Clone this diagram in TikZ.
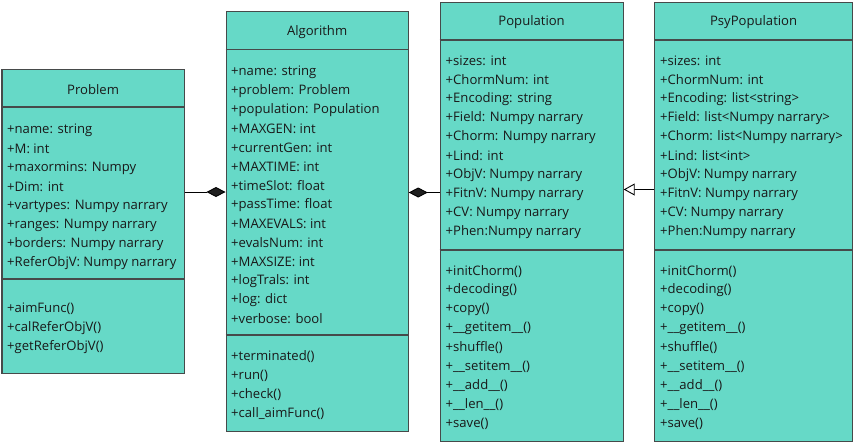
\documentclass[tikz,border=0pt]{standalone}
\usepackage{fontspec}
\setmainfont{Open Sans}
\usetikzlibrary{arrows.meta}
\definecolor{boxfill}{RGB}{102,217,199}
\definecolor{boxline}{RGB}{70,74,74}
\definecolor{txt}{RGB}{25,25,25}
\begin{document}
\begin{tikzpicture}[x=1pt,y=-1pt,
  classbox/.style={draw=boxline, fill=boxfill, line width=1.2pt, inner sep=0pt, anchor=north west},
  sepline/.style={draw=boxline, line width=1.2pt},
  member/.style={anchor=west, inner sep=0pt, yshift=-1pt, text=txt, font=\fontsize{13.1}{15}\selectfont},
  classtitle/.style={inner sep=0pt, yshift=-1pt, text=txt, font=\fontsize{13.1}{15}\selectfont},
  conn/.style={draw=black, line width=0.9pt}
]
\useasboundingbox (0,0) rectangle (854,442);

% ---------- Problem ----------
\node[classbox, minimum width=182pt, minimum height=304pt] (prob) at (1.5,68.5) {};
\draw[sepline] (prob.west |- 0,107) -- (prob.east |- 0,107);
\draw[sepline] (prob.west |- 0,279) -- (prob.east |- 0,279);
\node[classtitle] (probt) at (prob.north |- 0,89) {Problem};
\foreach \t [count=\i from 0] in {+name: string,+M: int,+maxormins: Numpy,+Dim: int,+vartypes: Numpy narrary,+ranges: Numpy narrary,+borders: Numpy narrary,+ReferObjV: Numpy narrary}
  \node[member] (proba\i) at (7,129+19*\i) {\t};
\foreach \t [count=\i from 0] in {+aimFunc(),+calReferObjV(),+getReferObjV()}
  \node[member] (probm\i) at (7,308+19*\i) {\t};

% ---------- Algorithm ----------
\node[classbox, minimum width=182pt, minimum height=420.5pt] (alg) at (225.5,10.5) {};
\draw[sepline] (alg.west |- 0,49.5) -- (alg.east |- 0,49.5);
\draw[sepline] (alg.west |- 0,335) -- (alg.east |- 0,335);
\node[classtitle] (algt) at (alg.north |- 0,31) {Algorithm};
\foreach \t [count=\i from 0] in {+name: string,+problem: Problem,+population: Population,+MAXGEN: int,+currentGen: int,+MAXTIME: int,+timeSlot: float,+passTime: float,+MAXEVALS: int,+evalsNum: int,+MAXSIZE: int,+logTrals: int,+log: dict,+verbose: bool}
  \node[member] (alga\i) at (231,71+19*\i) {\t};
\foreach \t [count=\i from 0] in {+terminated(),+run(),+check(),+call\_aimFunc()}
  \node[member] (algm\i) at (231,356+19*\i) {\t};

% ---------- Population ----------
\node[classbox, minimum width=183pt, minimum height=438.5pt] (pop) at (439.5,2) {};
\draw[sepline] (pop.west |- 0,40) -- (pop.east |- 0,40);
\draw[sepline] (pop.west |- 0,250) -- (pop.east |- 0,250);
\node[classtitle] (popt) at (pop.north |- 0,21) {Population};
\foreach \t [count=\i from 0] in {+sizes: int,+ChormNum: int,+Encoding: string,+Field: Numpy narrary,+Chorm: Numpy narrary,+Lind: int,+ObjV: Numpy narrary,+FitnV: Numpy narrary,+CV: Numpy narrary,+Phen:Numpy narrary}
  \node[member] (popa\i) at (445.5,60+19*\i) {\t};
\foreach \t [count=\i from 0] in {+initChorm(),+decoding(),+copy(),+\_\_getitem\_\_(),+shuffle(),+\_\_setitem\_\_(),+\_\_add\_\_(),+\_\_len\_\_(),+save()}
  \node[member] (popm\i) at (445.5,270.5+19*\i) {\t};

% ---------- PsyPopulation ----------
\node[classbox, minimum width=198pt, minimum height=438.5pt] (psy) at (654,2) {};
\draw[sepline] (psy.west |- 0,40) -- (psy.east |- 0,40);
\draw[sepline] (psy.west |- 0,250) -- (psy.east |- 0,250);
\node[classtitle] (psyt) at (psy.north |- 0,21) {PsyPopulation};
\foreach \t [count=\i from 0] in {+sizes: int,+ChormNum: int,+Encoding: list<string>,+Field: list<Numpy narrary>,+Chorm: list<Numpy narrary>,+Lind: list<int>,+ObjV: Numpy narrary,+FitnV: Numpy narrary,+CV: Numpy narrary,+Phen:Numpy narrary}
  \node[member] (psya\i) at (660,60+19*\i) {\t};
\foreach \t [count=\i from 0] in {+initChorm(),+decoding(),+copy(),+\_\_getitem\_\_(),+shuffle(),+\_\_setitem\_\_(),+\_\_add\_\_(),+\_\_len\_\_(),+save()}
  \node[member] (psym\i) at (660,270.5+19*\i) {\t};

% ---------- Connectors ----------
\coordinate (c1a) at (prob.east |- 0,192);
\coordinate (c1b) at (alg.west |- 0,192);
\draw[conn, -{Diamond[fill=black!88, length=19pt, width=10pt]}] (c1a) -- (c1b);

\coordinate (c2a) at (alg.east |- 0,192.5);
\coordinate (c2b) at (pop.west |- 0,192.5);
\draw[conn, {Diamond[fill=black!88, length=19pt, width=10pt]}-] (c2a) -- (c2b);

\coordinate (c3a) at (psy.west |- 0,189.5);
\coordinate (c3b) at (pop.east |- 0,189.5);
\draw[conn, -{Triangle[open, fill=white, length=11pt, width=12pt]}] (c3a) -- (c3b);
\end{tikzpicture}
\end{document}
